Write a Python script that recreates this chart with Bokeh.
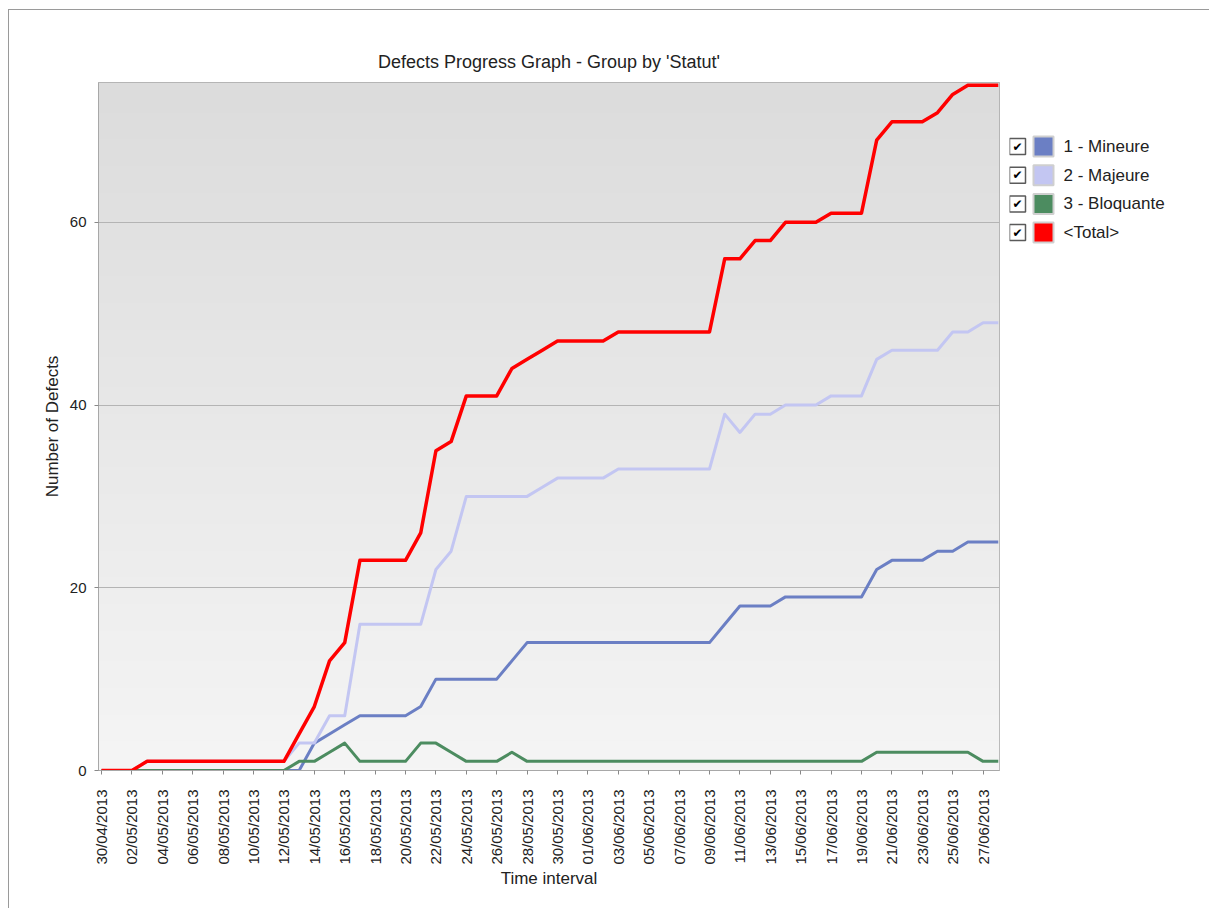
import numpy as np
import pandas as pd
from bokeh.plotting import figure
from bokeh.models import FixedTicker, DatetimeTickFormatter, Range1d, ColumnDataSource
from bokeh.layouts import row
from bokeh.embed import file_html
from bokeh.resources import INLINE
from bokeh.core.properties import value

# ---------------- data ----------------
title_text = "Defects Progress Graph - Group by 'Statut'"
x_label = "Time interval"
y_label = "Number of Defects"
dates = pd.date_range("2013-04-30", "2013-06-28", freq="D")
series_names = ["1 - Mineure", "2 - Majeure", "3 - Bloquante", "<Total>"]
series_colors = ["#6b7fc4", "#c3c6f2", "#4c8c60", "#ff0000"]

mineure = [0] * 14 + [3, 4, 5, 6, 6, 6, 6, 7, 10, 10, 10, 10, 10, 12, 14] + [14] * 12 + \
          [16, 18, 18, 18, 19, 19, 19, 19, 19, 19, 22, 23, 23, 23, 24, 24, 25, 25, 25]
majeure = [0, 0, 0] + [1] * 10 + [3, 3, 6, 6, 16, 16, 16, 16, 16, 22, 24, 30, 30, 30, 30, 30, 31, 32, 32, 32, 32, 33] + \
          [33] * 6 + [39, 37, 39, 39, 40, 40, 40, 41, 41, 41, 45, 46, 46, 46, 46, 48, 48, 49, 49]
bloquante = [0] * 13 + [1, 1, 2, 3, 1, 1, 1, 1, 3, 3, 2, 1, 1, 1, 2, 1] + [1] * 22 + [2] + [2] * 6 + [1, 1]
total = [0, 0, 0] + [1] * 10 + [4, 7, 12, 14, 23, 23, 23, 23, 26, 35, 36, 41, 41, 41, 44, 45, 46, 47, 47, 47, 47, 48] + \
        [48] * 6 + [56, 56, 58, 58, 60, 60, 60, 61, 61, 61, 69, 71, 71, 71, 72, 74, 75, 75, 75]
series_values = [mineure, majeure, bloquante, total]
y_ticks = [0, 20, 40, 60]
tick_dates = dates[::2]

# ---------------- style ----------------
FONT = "Liberation Sans"
DAY_MS = 86400000.0
x0 = dates[0].value / 1e6 - 0.2 * DAY_MS
x1 = dates[-1].value / 1e6 + 0.08 * DAY_MS
y0, y1 = 0.0, 75.3

p = figure(width=1000, height=898, x_axis_type="datetime",
           x_range=Range1d(x0, x1), y_range=Range1d(y0, y1),
           output_backend="svg", toolbar_location=None,
           min_border_left=89, min_border_right=10, min_border_top=72, min_border_bottom=138,
           title=title_text)
p.background_fill_color = "#ebebeb"
p.border_fill_color = "white"
p.outline_line_color = "#a8a8a8"
p.outline_line_width = 1

# gradient background of the plot area
n = 256
t = np.linspace(0.0, 1.0, n)
grey = (245 - (245 - 220) * t).astype(np.uint8)
img = np.zeros((n, 1), dtype=np.uint32)
view = img.view(dtype=np.uint8).reshape((n, 1, 4))
view[:, 0, 0] = grey
view[:, 0, 1] = grey
view[:, 0, 2] = grey
view[:, 0, 3] = 255
p.image_rgba(image=[img], x=x0, y=y0, dw=x1 - x0, dh=y1 - y0, level="image")

p.title.align = "center"
p.title.text_font = FONT
p.title.text_font_size = "18px"
p.title.text_font_style = "normal"
p.title.text_color = "#222222"
p.title.standoff = 21

p.xgrid.visible = False
p.ygrid.grid_line_color = "#b4b4b4"
p.ygrid.grid_line_width = 1

p.yaxis.ticker = FixedTicker(ticks=y_ticks)
p.xaxis.ticker = FixedTicker(ticks=[d.value / 1e6 for d in tick_dates])
fmt = "%d/%m/%Y"
p.xaxis.formatter = DatetimeTickFormatter(milliseconds=fmt, seconds=fmt, minsec=fmt, minutes=fmt,
                                          hourmin=fmt, hours=fmt, days=fmt, months=fmt, years=fmt)
p.xaxis.major_label_orientation = np.pi / 2

for ax in (p.xaxis, p.yaxis):
    ax.axis_line_color = "#a8a8a8"
    ax.major_tick_line_color = "#888888"
    ax.minor_tick_line_color = None
    ax.major_tick_in = 0
    ax.major_tick_out = 4
    ax.major_label_text_font = FONT
    ax.major_label_text_font_size = "15px"
    ax.major_label_text_color = "#222222"
    ax.axis_label_text_font = FONT
    ax.axis_label_text_font_size = "17px"
    ax.axis_label_text_font_style = "normal"
    ax.axis_label_text_color = "#222222"
p.xaxis.major_label_standoff = 15
p.xaxis.axis_label_standoff = 1
p.yaxis.major_label_standoff = 8
p.xaxis.axis_label = x_label
p.yaxis.axis_label = y_label

src = ColumnDataSource(dict(date=dates, mineure=mineure, majeure=majeure,
                            bloquante=bloquante, total=total))
widths = [3, 3, 3, 3.5]
for key, col, w in zip(["mineure", "majeure", "bloquante", "total"], series_colors, widths):
    p.line("date", key, source=src, line_color=col, line_width=w, line_join="round")

# ---------------- legend (checkbox + swatch + label), page-pixel coordinates ----------------
leg = figure(width=200, height=898, x_range=Range1d(1009, 1209), y_range=Range1d(771, 83),
             output_backend="svg", toolbar_location=None,
             x_axis_location=None, y_axis_location=None, min_border=0)
leg.outline_line_color = None
leg.grid.visible = False
leg.background_fill_color = "white"
leg.border_fill_color = "white"

row_y = [147 + 28.7 * i for i in range(len(series_names))]
lsrc = ColumnDataSource(dict(
    y=row_y, cx=[1017] * 4, sx=[1043] * 4, tx=[1063] * 4,
    color=series_colors, name=series_names, check=["\u2714"] * 4))
leg.scatter("cx", "y", source=lsrc, marker="square", size=16, fill_color="white",
            line_color="#5a5a5a", line_width=1.5)
leg.text("cx", "y", text="check", source=lsrc, text_align="center", text_baseline="middle",
         text_font=value("DejaVu Sans"), text_font_size="12px", text_color="black",
         text_font_style="bold")
leg.scatter("sx", "y", source=lsrc, marker="square", size=20, fill_color="color",
            line_color="#cfcfcf", line_width=2)
leg.text("tx", "y", text="name", source=lsrc, text_align="left", text_baseline="middle",
         text_font=value(FONT), text_font_size="17px", text_color="#222222")

layout = row(p, leg, styles={"margin-left": "8px", "margin-top": "9px",
                             "border-left": "1px solid #9a9a9a", "border-top": "1px solid #9a9a9a"})

open("out.html", "w").write(file_html(layout, INLINE))
